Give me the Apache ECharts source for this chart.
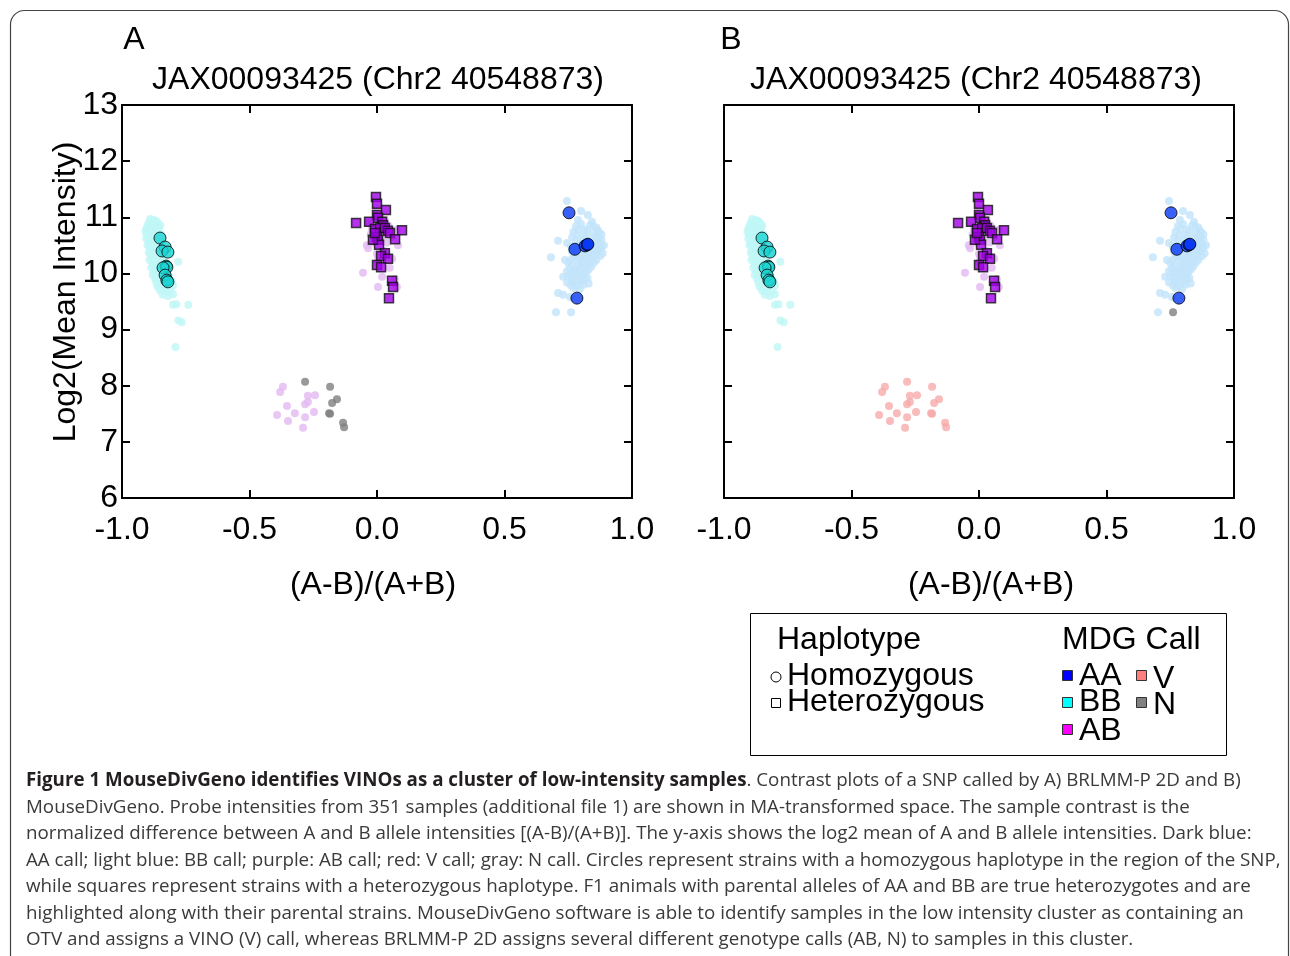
<!DOCTYPE html>
<html>
<head>
<meta charset="utf-8">
<script src="https://cdn.jsdelivr.net/npm/echarts@6/dist/echarts.min.js"></script>
<style>
html,body{margin:0;padding:0;background:#fff;}
#chart{width:1290px;height:956px;}
</style>
</head>
<body>
<div id="chart"></div>
<script>
// ---------- DATA ----------
const xTicks = [-1.0, -0.5, 0.0, 0.5, 1.0];
const yTicks = [6, 7, 8, 9, 10, 11, 12, 13];
const panelTitle = 'JAX00093425 (Chr2 40548873)';

// BB-called background samples (light cyan), same in both panels
const bbBg = [
  [-0.890,10.97],[-0.875,10.95],[-0.865,10.93],
  [-0.895,10.90],[-0.880,10.88],[-0.860,10.90],[-0.850,10.86],
  [-0.900,10.85],[-0.885,10.83],[-0.870,10.85],[-0.855,10.81],
  [-0.905,10.79],[-0.890,10.78],[-0.875,10.80],[-0.858,10.76],
  [-0.908,10.74],[-0.885,10.72],[-0.865,10.75],[-0.845,10.70],
  [-0.900,10.68],[-0.880,10.66],[-0.860,10.69],
  [-0.905,10.62],[-0.885,10.60],[-0.868,10.63],[-0.850,10.58],
  [-0.895,10.55],[-0.875,10.57],[-0.840,10.52],
  [-0.900,10.50],[-0.882,10.48],[-0.862,10.52],[-0.838,10.45],
  [-0.890,10.43],[-0.870,10.45],[-0.850,10.40],
  [-0.895,10.37],[-0.878,10.35],[-0.858,10.38],[-0.835,10.33],
  [-0.885,10.30],[-0.865,10.32],[-0.845,10.28],[-0.810,10.35],
  [-0.892,10.24],[-0.872,10.22],[-0.852,10.25],[-0.830,10.20],
  [-0.880,10.17],[-0.860,10.15],[-0.840,10.18],[-0.779,10.21],
  [-0.885,10.10],[-0.865,10.08],[-0.845,10.12],[-0.820,10.06],
  [-0.875,10.03],[-0.855,10.01],[-0.835,10.04],
  [-0.880,9.97],[-0.862,9.95],[-0.842,9.98],[-0.815,9.93],
  [-0.870,9.90],[-0.850,9.88],[-0.830,9.91],[-0.805,9.86],
  [-0.865,9.83],[-0.845,9.81],[-0.825,9.84],[-0.800,9.79],
  [-0.860,9.76],[-0.838,9.74],[-0.818,9.77],
  [-0.850,9.69],[-0.830,9.67],[-0.810,9.70],
  [-0.840,9.62],[-0.820,9.60],[-0.800,9.63],
  [-0.800,9.44],[-0.786,9.45],[-0.740,9.44],
  [-0.779,9.16],[-0.766,9.13],[-0.790,8.69]
];

// AA-called background samples (light blue), same in both panels
const aaBg = [
  [0.745,11.29],[0.800,11.11],[0.827,11.04],[0.788,10.95],[0.843,10.92],
  [0.800,10.88],[0.845,10.86],
  [0.780,10.84],[0.835,10.85],[0.860,10.82],
  [0.790,10.79],[0.815,10.78],[0.865,10.77],
  [0.770,10.74],[0.825,10.75],[0.850,10.72],[0.870,10.74],
  [0.785,10.69],[0.810,10.68],[0.860,10.67],[0.880,10.70],
  [0.765,10.64],[0.820,10.65],[0.845,10.62],[0.870,10.64],
  [0.780,10.59],[0.805,10.58],[0.855,10.57],[0.880,10.60],
  [0.710,10.58],[0.745,10.54],
  [0.795,10.53],[0.820,10.55],[0.845,10.52],[0.870,10.54],[0.890,10.50],
  [0.760,10.49],[0.785,10.48],[0.835,10.47],[0.860,10.49],[0.880,10.46],
  [0.775,10.44],[0.800,10.43],[0.825,10.45],[0.850,10.42],[0.875,10.44],
  [0.765,10.39],[0.815,10.40],[0.840,10.37],[0.865,10.39],[0.885,10.36],
  [0.780,10.33],[0.805,10.35],[0.830,10.32],[0.855,10.34],[0.875,10.31],
  [0.682,10.29],[0.737,10.24],
  [0.770,10.29],[0.795,10.28],[0.820,10.30],[0.845,10.27],
  [0.760,10.24],[0.785,10.23],[0.810,10.25],[0.835,10.22],[0.860,10.24],
  [0.750,10.19],[0.800,10.20],[0.825,10.17],[0.850,10.19],
  [0.765,10.14],[0.790,10.13],[0.815,10.15],[0.840,10.12],
  [0.755,10.09],[0.780,10.08],[0.805,10.10],[0.830,10.07],
  [0.745,10.04],[0.770,10.03],[0.795,10.05],[0.820,10.02],
  [0.730,9.94],[0.760,9.99],[0.785,9.98],[0.810,10.00],
  [0.750,9.94],[0.775,9.93],[0.800,9.95],[0.825,9.92],
  [0.765,9.89],[0.790,9.88],[0.815,9.90],
  [0.745,9.84],[0.770,9.83],[0.800,9.85],[0.830,9.82],
  [0.760,9.79],[0.785,9.78],[0.810,9.80],
  [0.770,9.74],[0.795,9.72],
  [0.710,9.65],[0.730,9.62],[0.757,9.58],
  [0.702,9.31]
];

// AB-called background samples (lavender), same in both panels
const abBg = [
  [-0.035,10.90],[-0.040,10.50],[-0.035,10.45],[-0.015,10.55],[0.078,10.78],
  [0.082,10.50],[0.000,10.35],[0.004,10.30],[0.059,10.26],[-0.055,10.01],
  [0.020,9.94],[0.004,9.76],[0.078,9.76],[0.024,10.70],[-0.020,10.80],
  [0.010,11.00],[0.030,10.95],[0.045,10.85],[-0.010,10.65],[0.015,10.60],
  [0.040,10.55],[0.060,10.65],[-0.025,10.70],[0.000,10.20],[0.030,10.40],
  [0.050,10.10],[0.070,9.90],[-0.005,11.15]
];

// Samples whose call differs between the two methods
const diffPts = [
  [-0.369,7.98],[-0.380,7.89],[-0.271,7.82],[-0.243,7.83],[-0.282,7.67],
  [-0.271,7.71],[-0.353,7.64],[-0.392,7.48],[-0.322,7.51],[-0.282,7.44],
  [-0.247,7.53],[-0.349,7.37],[-0.290,7.25],
  [-0.282,8.07],[-0.184,7.98],[-0.157,7.76],[-0.176,7.69],[-0.184,7.50],
  [-0.188,7.51],[-0.133,7.34],[-0.129,7.26],
  [0.761,9.31]
];
const callsA = ['AB','AB','AB','AB','AB','AB','AB','AB','AB','AB','AB','AB','AB',
                'N','N','N','N','N','N','N','N','AA'];
const callsB = ['V','V','V','V','V','V','V','V','V','V','V','V','V',
                'V','V','V','V','V','V','V','V','N'];

// Highlighted strains
const bbHom = [
  [-0.851,10.63],[-0.831,10.47],[-0.843,10.40],[-0.820,10.38],[-0.827,10.13],
  [-0.824,10.11],[-0.839,10.10],[-0.831,9.97],[-0.824,9.88],[-0.820,9.85]
];
const aaHom = [
  [0.753,11.08],[0.776,10.43],[0.816,10.49],[0.824,10.51],[0.827,10.52],[0.784,9.56]
];
const abHet = [
  [-0.004,11.36],[0.000,11.24],[0.035,11.13],[0.000,11.04],[0.004,10.99],
  [-0.082,10.90],[-0.031,10.92],[0.020,10.92],[0.024,10.86],[-0.008,10.79],
  [0.012,10.81],[0.031,10.81],[0.043,10.76],[0.051,10.72],[0.098,10.77],
  [0.000,10.65],[0.004,10.60],[0.008,10.51],[0.071,10.61],[0.031,10.36],
  [0.016,10.31],[0.043,10.26],[0.000,10.15],[0.016,10.11],[0.059,9.87],
  [0.063,9.76],[0.047,9.56],[-0.016,10.60],[-0.008,10.72]
];

const bgColors = {AA:'#c2e3fa', BB:'#bff6f6', AB:'#e3b9f3', V:'#f8aaaa', N:'#808080'};

// ---------- CHART ----------
const FONT = '"Liberation Sans", Arial, sans-serif';
const BIG = 32;
const chart = echarts.init(document.getElementById('chart'), null, {renderer:'canvas'});

function xAxes(gi){
  const common = {
    gridIndex: gi, type:'value', min:-1, max:1, interval:0.5,
    axisLine:{show:true, onZero:false, lineStyle:{color:'#000', width:2}},
    axisTick:{show:true, inside:true, length:8, lineStyle:{color:'#000', width:2}},
    splitLine:{show:false}
  };
  return [
    Object.assign({}, common, {position:'bottom',
      axisLabel:{show:true, margin:16, fontSize:BIG, color:'#000', fontFamily:FONT,
        formatter: v => v.toFixed(1)}}),
    Object.assign({}, common, {position:'top', axisLabel:{show:false}})
  ];
}
function yAxes(gi, labels){
  const common = {
    gridIndex: gi, type:'value', min:6, max:13, interval:1,
    axisLine:{show:true, onZero:false, lineStyle:{color:'#000', width:2}},
    axisTick:{show:true, inside:true, length:8, lineStyle:{color:'#000', width:2}},
    splitLine:{show:false}
  };
  return [
    Object.assign({}, common, {position:'left',
      axisLabel:{show:labels, margin:4, fontSize:BIG, color:'#000', fontFamily:FONT}}),
    Object.assign({}, common, {position:'right', axisLabel:{show:false}})
  ];
}

function panelSeries(ai, calls){
  const s = [];
  const base = {type:'scatter', xAxisIndex:ai, yAxisIndex:ai, silent:true, animation:false};
  s.push(Object.assign({}, base, {data:bbBg, symbol:'circle', symbolSize:8,
    itemStyle:{color:bgColors.BB}}));
  s.push(Object.assign({}, base, {data:aaBg, symbol:'circle', symbolSize:8,
    itemStyle:{color:bgColors.AA}}));
  s.push(Object.assign({}, base, {data:abBg, symbol:'circle', symbolSize:8,
    itemStyle:{color:bgColors.AB}}));
  ['AA','AB','V','N'].forEach(c => {
    const pts = diffPts.filter((p,i) => calls[i] === c);
    if (pts.length) s.push(Object.assign({}, base, {data:pts, symbol:'circle', symbolSize:8,
      itemStyle:{color:bgColors[c]}}));
  });
  s.push(Object.assign({}, base, {data:bbHom, symbol:'circle', symbolSize:12, z:5,
    itemStyle:{color:'#1cd3d3', borderColor:'#000', borderWidth:1}}));
  s.push(Object.assign({}, base, {data:aaHom, symbol:'circle', symbolSize:12, z:5,
    itemStyle:{color:'#0838f5', borderColor:'#000', borderWidth:1}}));
  s.push(Object.assign({}, base, {data:abHet, symbol:'rect', symbolSize:9, z:5,
    itemStyle:{color:'#a200ea', borderColor:'#111', borderWidth:1.5}}));
  return s;
}

function txt(x, y, text, size, opts){
  return Object.assign({type:'text', x:x, y:y, silent:true,
    style:Object.assign({text:text, fontSize:size, fontFamily:FONT, fill:'#000',
      align:'center', verticalAlign:'middle'}, (opts && opts.style) || {})},
    (opts && opts.el) || {});
}

const CAP_FONT = '"Open Sans", "Noto Sans", sans-serif';
const capLines = [
  null,
  'MouseDivGeno. Probe intensities from 351 samples (additional file 1) are shown in MA-transformed space. The sample contrast is the',
  'normalized difference between A and B allele intensities [(A-B)/(A+B)]. The y-axis shows the log2 mean of A and B allele intensities. Dark blue:',
  'AA call; light blue: BB call; purple: AB call; red: V call; gray: N call. Circles represent strains with a homozygous haplotype in the region of the SNP,',
  'while squares represent strains with a heterozygous haplotype. F1 animals with parental alleles of AA and BB are true heterozygotes and are',
  'highlighted along with their parental strains. MouseDivGeno software is able to identify samples in the low intensity cluster as containing an',
  'OTV and assigns a VINO (V) call, whereas BRLMM-P 2D assigns several different genotype calls (AB, N) to samples in this cluster.'
];
const CAP_SIZE = 19, CAP_SCALE = 0.987;
const capEls = [];
capEls.push({type:'text', x:26, y:781, scaleX:CAP_SCALE, silent:true,
  style:{text:'{b|Figure 1 MouseDivGeno identifies VINOs as a cluster of low-intensity samples}{n|. Contrast plots of a SNP called by A) BRLMM-P 2D and B)}',
    verticalAlign:'middle', align:'left',
    rich:{b:{fontSize:CAP_SIZE, fontFamily:CAP_FONT, fontWeight:'bold', fill:'#231f20'},
          n:{fontSize:CAP_SIZE, fontFamily:CAP_FONT, fill:'#3a3a3a'}}}});
for (let i = 1; i < capLines.length; i++){
  capEls.push({type:'text', x:26, y:781 + i*26.5, scaleX:CAP_SCALE, silent:true,
    style:{text:capLines[i], fontSize:CAP_SIZE, fontFamily:CAP_FONT, fill:'#3a3a3a',
      align:'left', verticalAlign:'middle'}});
}

const legendEls = [
  {type:'rect', shape:{x:750.5, y:613.5, width:476, height:142}, silent:true,
    style:{fill:'#fff', stroke:'#000', lineWidth:1}},
  txt(777, 640, 'Haplotype', BIG, {style:{align:'left'}}),
  txt(1062, 640, 'MDG Call', BIG, {style:{align:'left'}}),
  {type:'circle', shape:{cx:776, cy:677, r:5}, silent:true, style:{fill:'#fff', stroke:'#000', lineWidth:1}},
  txt(787, 676, 'Homozygous', BIG, {style:{align:'left'}}),
  {type:'rect', shape:{x:771.5, y:698.5, width:9, height:9}, silent:true, style:{fill:'#fff', stroke:'#000', lineWidth:1}},
  txt(787, 702, 'Heterozygous', BIG, {style:{align:'left'}}),
  {type:'rect', shape:{x:1062.5, y:670.5, width:10, height:10}, silent:true, style:{fill:'#0000ff', stroke:'#333', lineWidth:1}},
  txt(1079, 676, 'AA', BIG, {style:{align:'left'}}),
  {type:'rect', shape:{x:1136.5, y:670.5, width:10, height:10}, silent:true, style:{fill:'#ff7f7f', stroke:'#333', lineWidth:1}},
  txt(1153, 679, 'V', BIG, {style:{align:'left'}}),
  {type:'rect', shape:{x:1062.5, y:697.5, width:10, height:10}, silent:true, style:{fill:'#00ffff', stroke:'#333', lineWidth:1}},
  txt(1079, 702, 'BB', BIG, {style:{align:'left'}}),
  {type:'rect', shape:{x:1136.5, y:697.5, width:10, height:10}, silent:true, style:{fill:'#808080', stroke:'#333', lineWidth:1}},
  txt(1153, 705, 'N', BIG, {style:{align:'left'}}),
  {type:'rect', shape:{x:1062.5, y:724.5, width:10, height:10}, silent:true, style:{fill:'#ff00ff', stroke:'#333', lineWidth:1}},
  txt(1079, 731, 'AB', BIG, {style:{align:'left'}})
];

const option = {
  backgroundColor:'#fff',
  animation:false,
  grid:[
    {left:122, top:105, width:510, height:393, containLabel:false},
    {left:724, top:105, width:510, height:393, containLabel:false}
  ],
  xAxis: xAxes(0).concat(xAxes(1)),
  yAxis: yAxes(0, true).concat(yAxes(1, false)),
  series: panelSeries(0, callsA).concat(panelSeries(2, callsB)),
  graphic: [
    {type:'rect', shape:{x:10.5, y:10.5, width:1278, height:980, r:14}, silent:true, z:-10,
      style:{fill:'none', stroke:'#444', lineWidth:1.2}},
    txt(134, 40, 'A', BIG),
    txt(731, 40, 'B', BIG),
    txt(378, 80, panelTitle, BIG),
    txt(976, 80, panelTitle, BIG),
    txt(373, 585, '(A-B)/(A+B)', BIG),
    txt(991, 585, '(A-B)/(A+B)', BIG),
    txt(66, 292, 'Log2(Mean Intensity)', BIG, {el:{rotation:Math.PI/2}})
  ].concat(legendEls, capEls)
};
chart.setOption(option);
</script>
</body>
</html>
